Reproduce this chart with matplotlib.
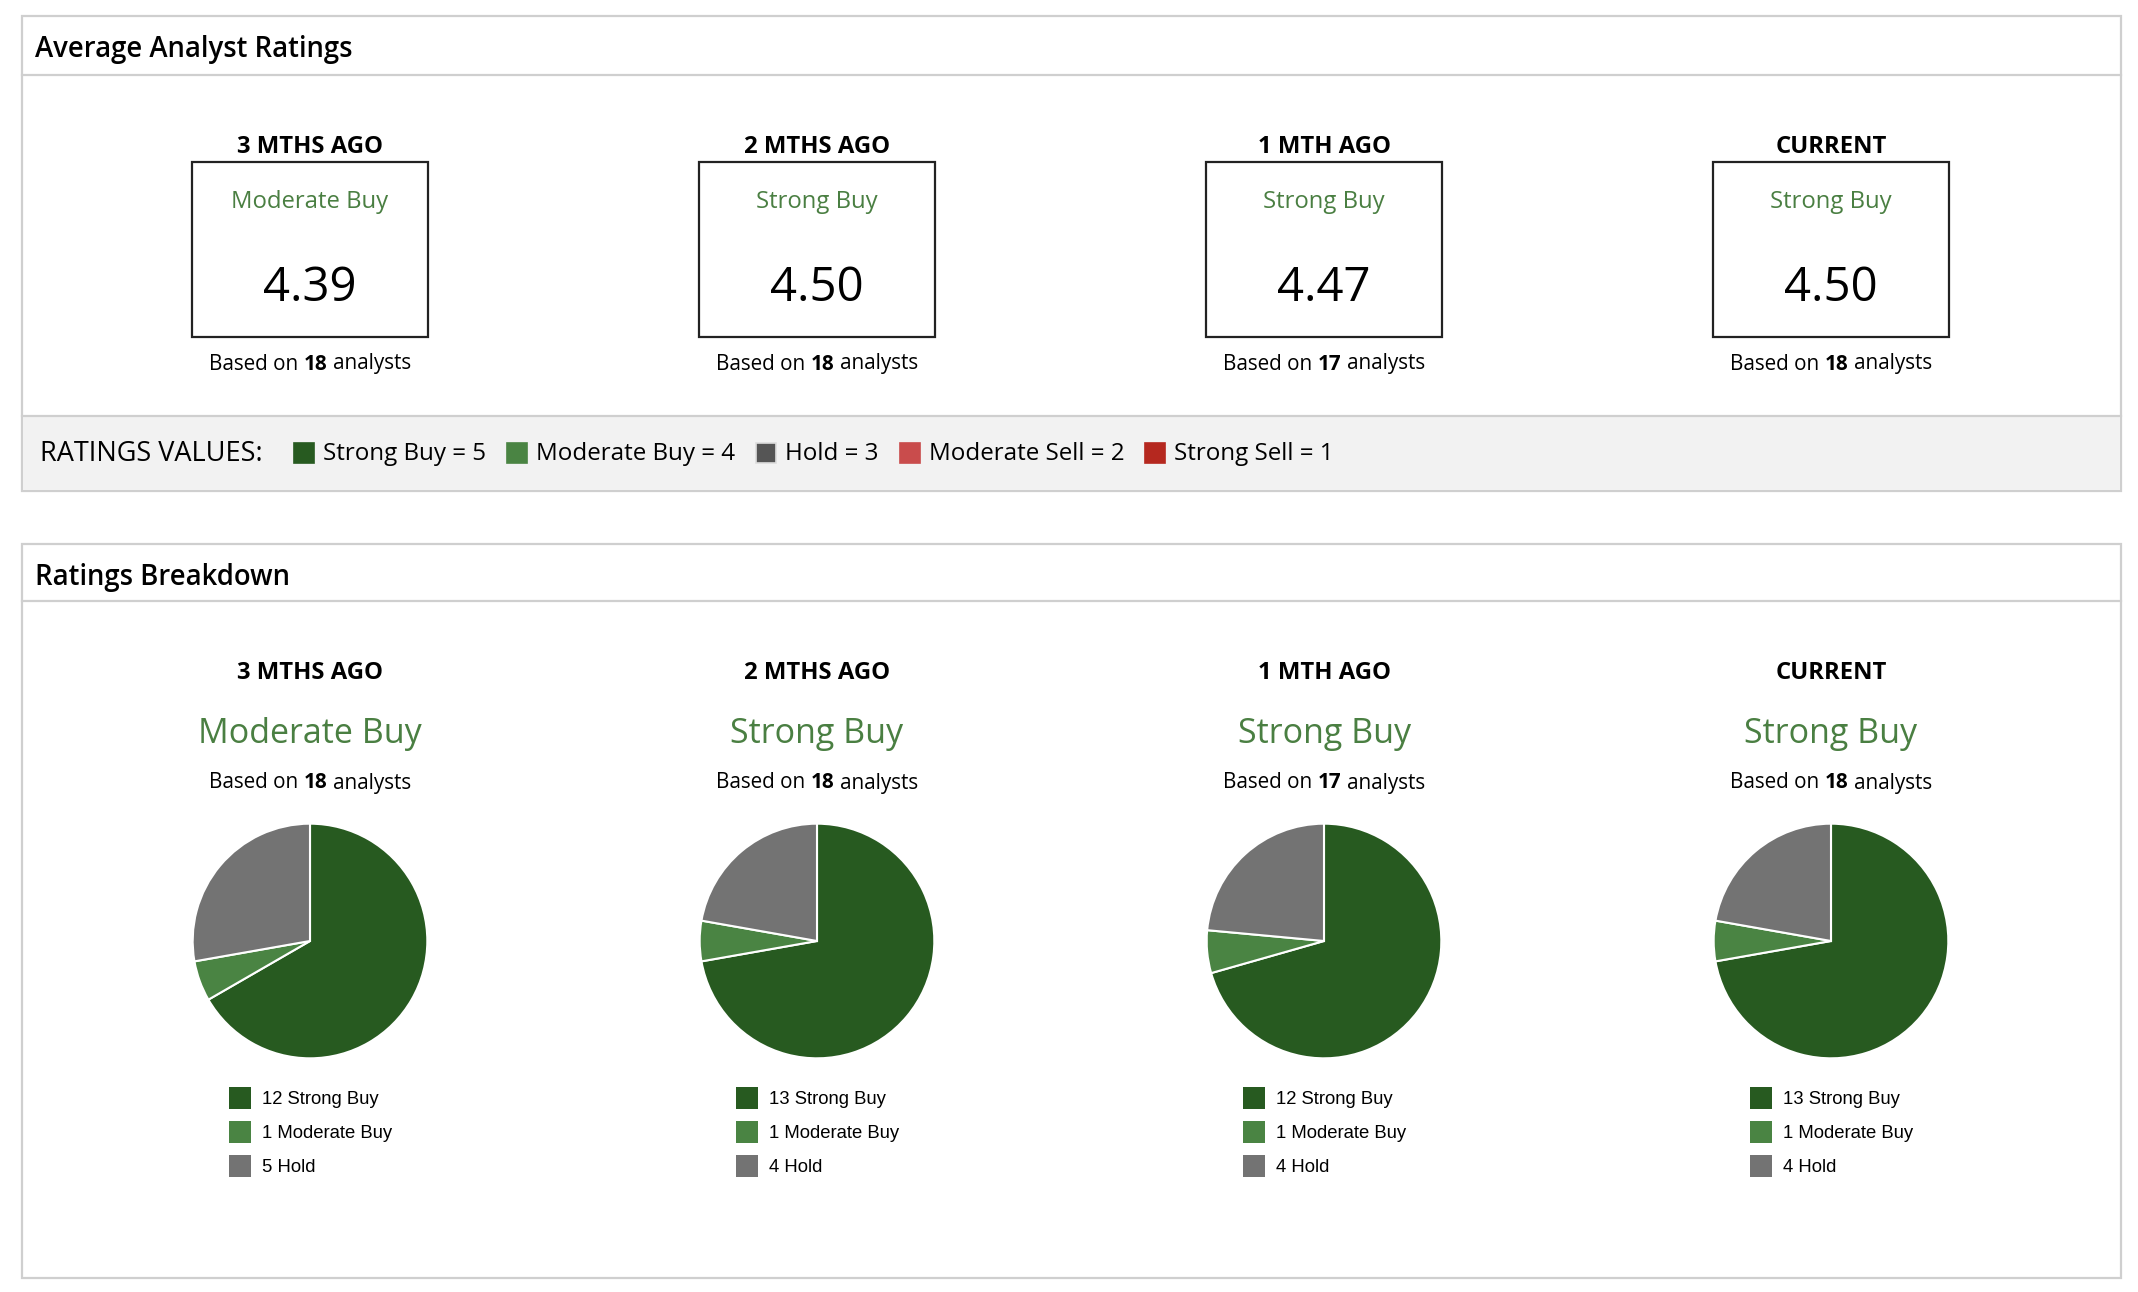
import matplotlib
matplotlib.use("Agg")
import matplotlib.pyplot as plt
from matplotlib.patches import Rectangle

W, H = 2138, 1292
DPI = 100

# ---- data ----
periods = ["3 MTHS AGO", "2 MTHS AGO", "1 MTH AGO", "CURRENT"]
avg_labels = ["Moderate Buy", "Strong Buy", "Strong Buy", "Strong Buy"]
avg_scores = [4.39, 4.50, 4.47, 4.50]
n_analysts = [18, 18, 17, 18]
strong_buy = [12, 13, 12, 13]
moderate_buy = [1, 1, 1, 1]
hold = [5, 4, 4, 4]

scale_names = ["Strong Buy", "Moderate Buy", "Hold", "Moderate Sell", "Strong Sell"]
scale_values = [5, 4, 3, 2, 1]

# ---- style ----
FONT = ["Open Sans", "DejaVu Sans"]
PIE_FONT = ["Liberation Sans", "DejaVu Sans"]
C_SB = "#275a20"
C_MB = "#4a8443"
C_HOLD = "#737373"
C_HOLD_KEY = "#555555"
C_MS = "#c94c4c"
C_SS = "#b5281f"
C_TXT_GREEN = "#4a7f42"
C_BORDER = "#cfcfcf"
key_colors = [C_SB, C_MB, C_HOLD_KEY, C_MS, C_SS]

col_x = [310, 817, 1324, 1831]

fig = plt.figure(figsize=(W / DPI, H / DPI), dpi=DPI)
ax = fig.add_axes([0, 0, 1, 1])
ax.set_xlim(0, W)
ax.set_ylim(H, 0)
ax.axis("off")
renderer = fig.canvas.get_renderer()


def text_w(s, **kw):
    t = ax.text(0, 0, s, fontfamily=kw.get("family", FONT),
                fontsize=kw.get("size", 12), fontweight=kw.get("weight", "normal"))
    w = t.get_window_extent(renderer).width
    t.remove()
    return w


def rich_center(x, y, pieces, size, family=FONT, color="black"):
    # pieces: list of (text, weight); joined with single spaces
    sp = text_w("a a", size=size, family=family) - text_w("aa", size=size, family=family)
    widths = [text_w(s, size=size, weight=wt, family=family) for s, wt in pieces]
    total = sum(widths) + sp * (len(pieces) - 1)
    cur = x - total / 2
    for (s, wt), w in zip(pieces, widths):
        ax.text(cur, y, s, fontsize=size, fontweight=wt, fontfamily=family,
                color=color, ha="left", va="center")
        cur += w + sp


def panel(y0, y1, hdr_y, line_y, title):
    ax.add_patch(Rectangle((22, y0), 2099, y1 - y0, facecolor="white",
                           edgecolor=C_BORDER, lw=1.6, zorder=0))
    ax.plot([22, 2121], [line_y, line_y], color=C_BORDER, lw=1.6, zorder=1)
    ax.text(35, hdr_y, title, fontsize=19.8, fontweight="semibold", fontfamily=FONT,
            ha="left", va="center")


# ---- panel 1: average ratings ----
panel(16, 491, 49, 75, "Average Analyst Ratings")
ax.add_patch(Rectangle((23, 416), 2097, 74, facecolor="#f2f2f2", edgecolor="none", zorder=1))
ax.plot([22, 2121], [416, 416], color=C_BORDER, lw=1.6, zorder=2)

for i, cx in enumerate(col_x):
    ax.text(cx, 147, periods[i], fontsize=17.2, fontweight="bold", fontfamily=FONT,
            ha="center", va="center")
    ax.add_patch(Rectangle((cx - 118, 162), 236, 175, facecolor="white",
                           edgecolor="#222222", lw=1.6, zorder=2))
    ax.text(cx, 202, avg_labels[i], fontsize=17.2, fontfamily=FONT, color=C_TXT_GREEN,
            ha="center", va="center", zorder=3)
    ax.text(cx, 288, f"{avg_scores[i]:.2f}", fontsize=34, fontfamily=FONT,
            ha="center", va="center", zorder=3)
    rich_center(cx, 364, [("Based on", "normal"), (str(n_analysts[i]), "bold"),
                          ("analysts", "normal")], 14.9)

# ratings values key
ax.text(40, 454, "RATINGS VALUES:", fontsize=19.5, fontfamily=FONT, ha="left", va="center")
kx = 294
for name, val, c in zip(scale_names, scale_values, key_colors):
    ax.add_patch(Rectangle((kx, 443), 20, 20, facecolor=c,
                           edgecolor="#dddddd" if c == C_HOLD_KEY else c, lw=1.2, zorder=3))
    lbl = f"{name} = {val}"
    ax.text(kx + 29, 454, lbl, fontsize=17.4, fontfamily=FONT, ha="left", va="center")
    kx += 29 + text_w(lbl, size=17.4) + 21

# ---- panel 2: ratings breakdown ----
panel(544, 1278, 577, 601, "Ratings Breakdown")
R = 118.5
for i, cx in enumerate(col_x):
    ax.text(cx, 673, periods[i], fontsize=17.2, fontweight="bold", fontfamily=FONT,
            ha="center", va="center")
    ax.text(cx, 734, avg_labels[i], fontsize=24.5, fontfamily=FONT, color=C_TXT_GREEN,
            ha="center", va="center")
    rich_center(cx, 783, [("Based on", "normal"), (str(n_analysts[i]), "bold"),
                          ("analysts", "normal")], 14.9)

    cy = 941
    pax = fig.add_axes([(cx - R) / W, 1 - (cy + R) / H, 2 * R / W, 2 * R / H])
    pax.pie([strong_buy[i], moderate_buy[i], hold[i]], colors=[C_SB, C_MB, C_HOLD],
            startangle=90, counterclock=False, radius=1,
            wedgeprops=dict(edgecolor="white", linewidth=1.5))
    pax.set_xlim(-1.01, 1.01)
    pax.set_ylim(-1.01, 1.01)
    pax.set_aspect("equal")
    pax.axis("off")

    rows = [(f"{strong_buy[i]} Strong Buy", C_SB),
            (f"{moderate_buy[i]} Moderate Buy", C_MB),
            (f"{hold[i]} Hold", C_HOLD)]
    for j, (lbl, c) in enumerate(rows):
        ry = 1098 + 34 * j
        ax.add_patch(Rectangle((cx - 81, ry - 11), 22, 22, facecolor=c, edgecolor="none"))
        ax.text(cx - 48, ry + 1, lbl, fontsize=13.3, fontfamily=PIE_FONT,
                ha="left", va="center")

fig.savefig("out.png", dpi=DPI, facecolor="white")
